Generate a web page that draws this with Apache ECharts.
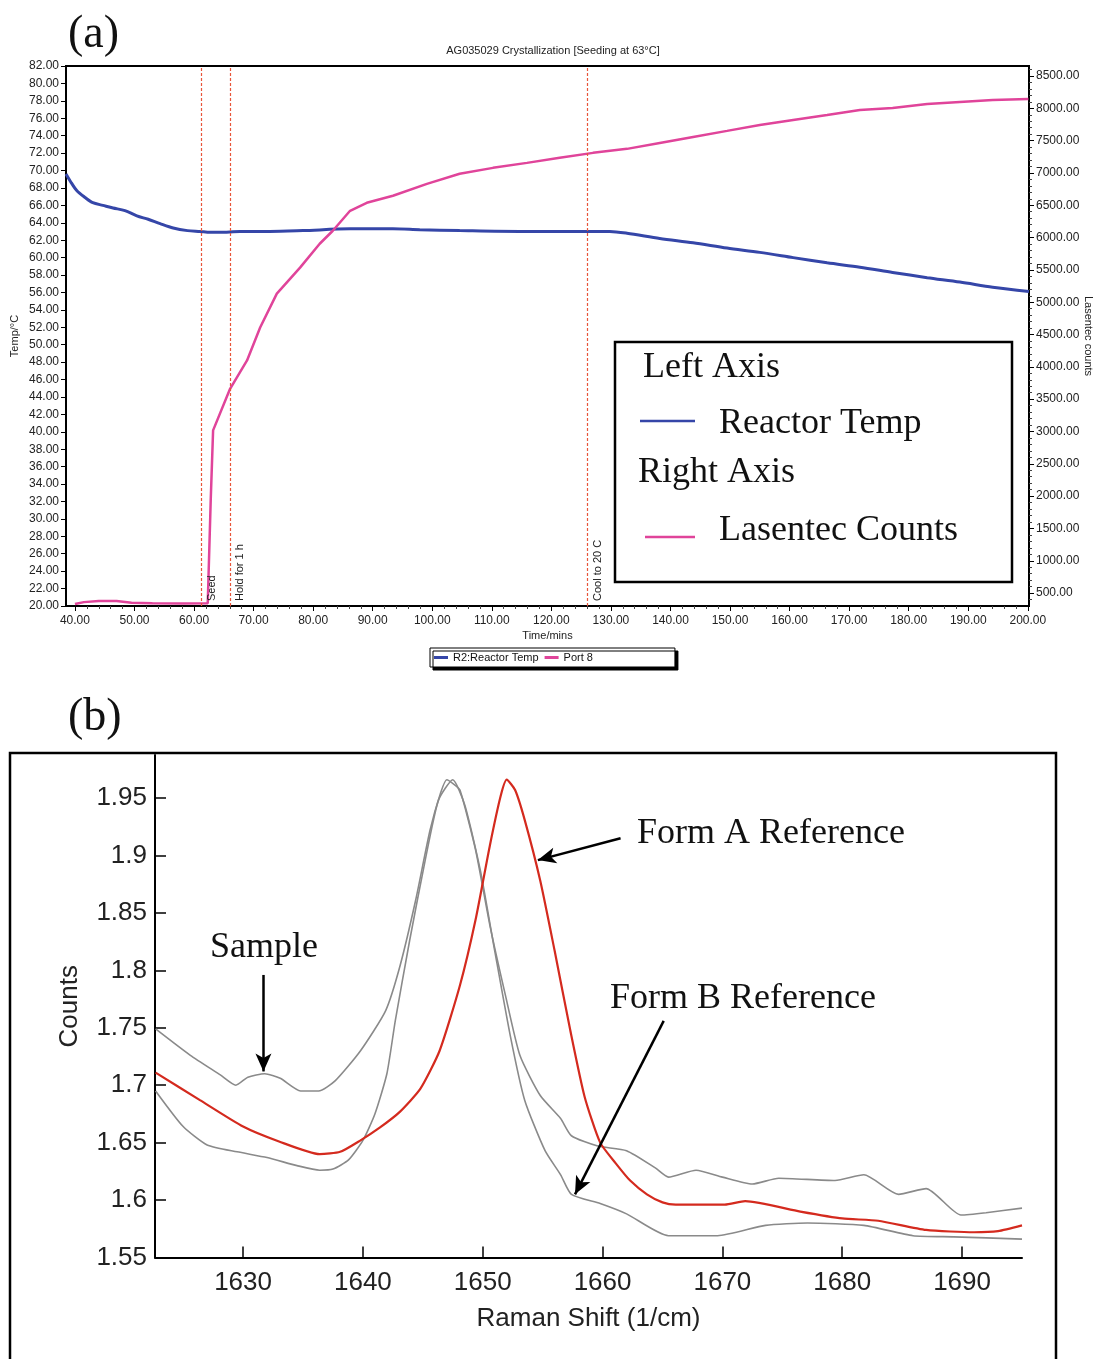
<!DOCTYPE html>
<html>
<head>
<meta charset="utf-8">
<script src="https://cdn.jsdelivr.net/npm/echarts@6/dist/echarts.min.js"></script>
<style>
html, body { margin: 0; padding: 0; background: #fff; }
#main { width: 1095px; height: 1359px; }
</style>
</head>
<body>
<div id="main"></div>
<script>
// (a) crystallization run
var timeTicks = [40, 50, 60, 70, 80, 90, 100, 110, 120, 130, 140, 150, 160, 170, 180, 190, 200];
var tempTicks = [20, 22, 24, 26, 28, 30, 32, 34, 36, 38, 40, 42, 44, 46, 48, 50, 52, 54, 56, 58, 60,
  62, 64, 66, 68, 70, 72, 74, 76, 78, 80, 82];
var countTicks = [500, 1000, 1500, 2000, 2500, 3000, 3500, 4000, 4500, 5000, 5500, 6000, 6500,
  7000, 7500, 8000, 8500];

var reactorTemp = [[38.5, 69.6], [39.2, 68.8], [40.3, 67.7], [41.7, 66.9], [43.0, 66.3], [44.7, 66.0],
  [46.4, 65.7], [48.4, 65.4], [50.4, 64.8], [52.3, 64.4], [54.3, 63.9], [56.5, 63.4], [58.9, 63.1],
  [61.0, 63.0], [62.7, 62.9], [64.3, 62.9], [67.7, 63.0], [72.7, 63.0], [78.3, 63.1], [86.2, 63.3],
  [93.4, 63.3], [97.9, 63.2], [104.6, 63.1], [114.7, 63.0], [121.4, 63.0], [129.8, 63.0], [132.7, 62.8],
  [138.2, 62.2], [143.8, 61.7], [149.5, 61.1], [155.0, 60.6], [160.6, 60.0], [166.3, 59.4], [171.8, 58.9],
  [177.3, 58.3], [183.1, 57.7], [188.6, 57.2], [194.1, 56.6], [200.2, 56.1]];

var lasentecCounts = [[40, 330], [41.5, 360], [44, 378], [47, 376], [49.5, 352], [53, 344], [58, 340],
  [62.3, 342], [62.8, 1936], [63.2, 3017], [66.0, 3650], [68.9, 4099], [71.1, 4608], [73.9, 5133],
  [77.8, 5535], [81.1, 5905], [83.3, 6106], [86.2, 6415], [89.0, 6539], [93.4, 6647], [99.1, 6832],
  [104.6, 6987], [110.2, 7079], [115.9, 7156], [121.4, 7234], [127.0, 7311], [132.7, 7373], [138.2, 7465],
  [143.8, 7558], [149.5, 7651], [155.0, 7743], [160.6, 7820], [166.3, 7898], [171.8, 7975], [177.3, 8006],
  [183.1, 8068], [188.6, 8098], [194.1, 8129], [200.1, 8145]];

var eventTimes = [61.2, 66.0, 126.1];
var eventNames = ['Seed', 'Hold for 1 h', 'Cool to 20 C'];

// (b) Raman spectra
var ramanTicks = [1630, 1640, 1650, 1660, 1670, 1680, 1690];
var ramanCountTicks = [1.55, 1.6, 1.65, 1.7, 1.75, 1.8, 1.85, 1.9, 1.95];

var sample = [[1622.7, 1.749], [1625.6, 1.726], [1628.1, 1.709], [1629.4, 1.700], [1630.4, 1.707],
  [1631.8, 1.710], [1633.1, 1.706], [1634.8, 1.695], [1636.3, 1.695], [1637.7, 1.704], [1639.8, 1.730],
  [1641.9, 1.765], [1643.1, 1.804], [1644.4, 1.861], [1645.6, 1.922], [1646.5, 1.955], [1647.0, 1.966],
  [1647.6, 1.962], [1648.1, 1.957], [1649.4, 1.905], [1650.6, 1.839], [1651.9, 1.778], [1653.1, 1.726],
  [1654.8, 1.691], [1656.5, 1.671], [1657.4, 1.656], [1659.6, 1.647], [1662.0, 1.643], [1664.4, 1.628],
  [1665.5, 1.620], [1667.8, 1.626], [1670.0, 1.620], [1672.5, 1.614], [1674.7, 1.619], [1679.4, 1.617],
  [1681.8, 1.622], [1684.7, 1.605], [1687.0, 1.610], [1689.9, 1.587], [1692.0, 1.589], [1695.0, 1.593]];

var formA = [[1622.7, 1.711], [1626.4, 1.687], [1630.0, 1.664], [1633.0, 1.651], [1636.4, 1.640],
  [1638.1, 1.642], [1639.8, 1.652], [1641.4, 1.663], [1643.1, 1.677], [1644.8, 1.697], [1646.4, 1.730],
  [1648.1, 1.787], [1649.4, 1.844], [1650.6, 1.909], [1651.5, 1.952], [1652.0, 1.966], [1652.7, 1.957],
  [1653.5, 1.931], [1654.8, 1.878], [1656.0, 1.817], [1657.3, 1.748], [1658.5, 1.690], [1659.8, 1.650],
  [1661.1, 1.632], [1662.3, 1.617], [1663.7, 1.605], [1665.0, 1.598], [1666.1, 1.596], [1670.2, 1.596],
  [1671.9, 1.599], [1676.5, 1.590], [1680.0, 1.584], [1683.0, 1.582], [1687.0, 1.574], [1691.0, 1.572],
  [1693.0, 1.573], [1695.0, 1.578]];

var formB = [[1622.7, 1.695], [1625.0, 1.664], [1627.0, 1.648], [1629.5, 1.642], [1632.0, 1.637],
  [1634.5, 1.630], [1636.4, 1.626], [1637.5, 1.627], [1638.8, 1.635], [1640.0, 1.652], [1641.0, 1.675],
  [1642.0, 1.710], [1642.7, 1.756], [1643.9, 1.826], [1645.2, 1.896], [1646.3, 1.948], [1647.5, 1.966],
  [1648.5, 1.944], [1649.8, 1.887], [1651.0, 1.817], [1652.3, 1.743], [1653.5, 1.687], [1655.2, 1.643],
  [1656.5, 1.622], [1657.4, 1.605], [1659.8, 1.597], [1662.0, 1.588], [1665.5, 1.569], [1669.6, 1.569],
  [1673.6, 1.578], [1677.1, 1.580], [1681.8, 1.578], [1685.9, 1.569], [1689.3, 1.568], [1695.0, 1.566]];

var sans = 'Liberation Sans, Arial, sans-serif';
var serif = 'Liberation Serif, Times New Roman, serif';

var chart = echarts.init(document.getElementById('main'));

function two(v) { return v.toFixed(2); }

var smallLabel = { fontFamily: sans, fontSize: 12, color: '#222' };

var option = {
  animation: false,
  backgroundColor: '#fff',
  grid: [
    { left: 66, top: 66, width: 963, height: 540, show: true, borderColor: '#000', borderWidth: 2, outerBoundsMode: 'none' },
    { left: 155, top: 755, width: 867, height: 502.5, outerBoundsMode: 'none' }
  ],
  legend: {
    data: ['R2:Reactor Temp', 'Port 8'],
    left: 430, top: 648,
    icon: 'rect', itemWidth: 14, itemHeight: 3, itemGap: 6,
    padding: [4, 82, 4, 4],
    borderColor: '#000', borderWidth: 1, backgroundColor: '#fff',
    shadowColor: '#000', shadowOffsetX: 3, shadowOffsetY: 3, shadowBlur: 0.1,
    textStyle: { fontFamily: sans, fontSize: 11, color: '#111' }
  },
  xAxis: [
    {
      type: 'value', gridIndex: 0, min: 38.5, max: 200.2, splitNumber: 16,
      splitLine: { show: false },
      axisLine: { lineStyle: { color: '#000', width: 2 } },
      axisTick: { length: 5, lineStyle: { color: '#000' }, customValues: timeTicks },
      minorTick: { show: true, splitNumber: 5, length: 3, lineStyle: { color: '#444' } },
      axisLabel: Object.assign({ customValues: timeTicks, formatter: two, margin: 9 }, smallLabel),
      name: 'Time/mins', nameLocation: 'middle', nameGap: 24,
      nameTextStyle: { fontFamily: sans, fontSize: 11, color: '#222' }
    },
    {
      type: 'value', gridIndex: 1, min: 1622.65, max: 1695, splitNumber: 7,
      splitLine: { show: false },
      axisLine: { lineStyle: { color: '#000', width: 2 } },
      axisTick: { inside: true, length: 11, lineStyle: { color: '#000', width: 1.5 }, customValues: ramanTicks },
      axisLabel: {
        customValues: ramanTicks, margin: 12, fontFamily: sans, fontSize: 26, color: '#222',
        formatter: function (v) { return String(v); }
      },
      name: 'Raman Shift (1/cm)', nameLocation: 'middle', nameGap: 48,
      nameTextStyle: { fontFamily: sans, fontSize: 26, color: '#222' }
    }
  ],
  yAxis: [
    {
      type: 'value', gridIndex: 0, min: 20, max: 82, interval: 2, position: 'left',
      splitLine: { show: false },
      axisLine: { lineStyle: { color: '#000', width: 2 } },
      axisTick: { length: 5, lineStyle: { color: '#000' }, customValues: tempTicks },
      axisLabel: Object.assign({ customValues: tempTicks, formatter: two, margin: 7 }, smallLabel),
      name: 'Temp/°C', nameLocation: 'middle', nameRotate: 90, nameGap: 46, nameMoveOverlap: false,
      nameTextStyle: { fontFamily: sans, fontSize: 11, color: '#222' }
    },
    {
      type: 'value', gridIndex: 0, min: 300, max: 8655, splitNumber: 16, position: 'right',
      splitLine: { show: false },
      axisLine: { lineStyle: { color: '#000', width: 2 } },
      axisTick: { length: 5, lineStyle: { color: '#000' }, customValues: countTicks },
      minorTick: { show: true, splitNumber: 5, length: 3, lineStyle: { color: '#444' } },
      axisLabel: Object.assign({ customValues: countTicks, formatter: two, margin: 7 }, smallLabel),
      name: 'Lasentec counts', nameLocation: 'middle', nameRotate: -90, nameGap: 54, nameMoveOverlap: false,
      nameTextStyle: { fontFamily: sans, fontSize: 11, color: '#222' }
    },
    {
      type: 'value', gridIndex: 1, min: 1.55, max: 1.9875,
      splitLine: { show: false },
      axisLine: { lineStyle: { color: '#000', width: 2 } },
      axisTick: { inside: true, length: 11, lineStyle: { color: '#000', width: 1.5 }, customValues: ramanCountTicks },
      axisLabel: { customValues: ramanCountTicks, margin: 8, fontFamily: sans, fontSize: 26, color: '#222' },
      name: 'Counts', nameLocation: 'middle', nameRotate: 90, nameGap: 72,
      nameTextStyle: { fontFamily: sans, fontSize: 26, color: '#222' }
    }
  ],
  series: [
    {
      name: 'R2:Reactor Temp', type: 'line', xAxisIndex: 0, yAxisIndex: 0,
      data: reactorTemp, showSymbol: false, smooth: 0.3,
      itemStyle: { color: '#3546a8' }, lineStyle: { color: '#3546a8', width: 3 },
      markLine: {
        silent: true, symbol: 'none',
        lineStyle: { color: '#e8553a', type: [3, 2], width: 1.2 },
        label: {
          show: true, position: 'insideStartBottom', formatter: '{b}',
          fontFamily: sans, fontSize: 11, color: '#222'
        },
        data: eventTimes.map(function (t, i) { return { xAxis: t, name: eventNames[i] }; })
      }
    },
    {
      name: 'Port 8', type: 'line', xAxisIndex: 0, yAxisIndex: 1,
      data: lasentecCounts, showSymbol: false,
      itemStyle: { color: '#e0449a' }, lineStyle: { color: '#e0449a', width: 2.5 }
    },
    {
      name: 'Sample', type: 'line', xAxisIndex: 1, yAxisIndex: 2,
      data: sample, showSymbol: false, smooth: 0.2,
      lineStyle: { color: '#8a8a8a', width: 1.6 },
      markLine: {
        silent: true, symbol: ['none', 'arrow'], symbolSize: [12, 18],
        lineStyle: { color: '#000', width: 2.5, type: 'solid' },
        label: { show: false },
        data: [
          [{ coord: [1661.5, 1.915] }, { coord: [1654.6, 1.896] }],
          [{ coord: [1631.7, 1.796] }, { coord: [1631.7, 1.712] }],
          [{ coord: [1665.1, 1.756] }, { coord: [1657.7, 1.605] }]
        ]
      }
    },
    {
      name: 'Form B Reference', type: 'line', xAxisIndex: 1, yAxisIndex: 2,
      data: formB, showSymbol: false, smooth: 0.2,
      lineStyle: { color: '#8a8a8a', width: 1.6 }
    },
    {
      name: 'Form A Reference', type: 'line', xAxisIndex: 1, yAxisIndex: 2,
      data: formA, showSymbol: false, smooth: 0.2,
      lineStyle: { color: '#d42a1e', width: 2.2 }
    }
  ],
  graphic: [
    { type: 'text', left: 68, top: 12, style: { text: '(a)', font: '46px ' + serif, fill: '#111' } },
    { type: 'text', left: 68, top: 695, style: { text: '(b)', font: '46px ' + serif, fill: '#111' } },
    {
      type: 'text', x: 553, y: 51,
      style: { text: 'AG035029 Crystallization [Seeding at 63°C]', font: '11px ' + sans, fill: '#222', align: 'center', verticalAlign: 'middle' }
    },
    // legend box inside panel (a)
    { type: 'rect', shape: { x: 615, y: 342, width: 397, height: 240 }, style: { fill: '#fff', stroke: '#000', lineWidth: 2.5 }, z: 50 },
    { type: 'text', x: 643, y: 368, z: 51, style: { text: 'Left Axis', font: '36px ' + serif, fill: '#111', verticalAlign: 'middle' } },
    { type: 'line', z: 51, shape: { x1: 640, y1: 421, x2: 695, y2: 421 }, style: { stroke: '#3546a8', lineWidth: 2.5 } },
    { type: 'text', x: 719, y: 424, z: 51, style: { text: 'Reactor Temp', font: '36px ' + serif, fill: '#111', verticalAlign: 'middle' } },
    { type: 'text', x: 638, y: 473, z: 51, style: { text: 'Right Axis', font: '36px ' + serif, fill: '#111', verticalAlign: 'middle' } },
    { type: 'line', z: 51, shape: { x1: 645, y1: 537, x2: 695, y2: 537 }, style: { stroke: '#e0449a', lineWidth: 2.5 } },
    { type: 'text', x: 719, y: 531, z: 51, style: { text: 'Lasentec Counts', font: '36px ' + serif, fill: '#111', verticalAlign: 'middle' } },
    // frame of panel (b)
    { type: 'rect', shape: { x: 10, y: 753, width: 1046, height: 660 }, style: { fill: 'none', stroke: '#000', lineWidth: 2.5 } },
    { type: 'text', x: 637, y: 834, style: { text: 'Form A Reference', font: '36px ' + serif, fill: '#111', verticalAlign: 'middle' } },
    { type: 'text', x: 210, y: 948, style: { text: 'Sample', font: '36px ' + serif, fill: '#111', verticalAlign: 'middle' } },
    { type: 'text', x: 610, y: 999, style: { text: 'Form B Reference', font: '36px ' + serif, fill: '#111', verticalAlign: 'middle' } }
  ]
};

chart.setOption(option);
</script>
</body>
</html>
